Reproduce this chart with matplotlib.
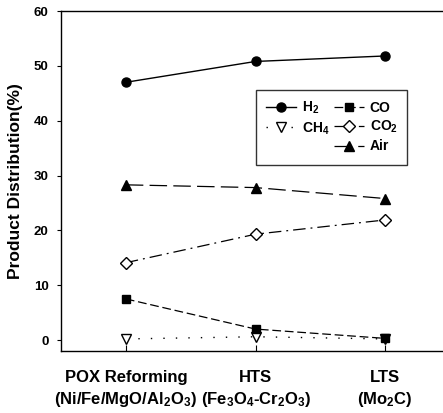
import matplotlib.pyplot as plt
from matplotlib.lines import Line2D

plt.rcParams["font.family"] = ["Liberation Sans", "DejaVu Sans"]
plt.rcParams["mathtext.default"] = "regular"

categories = ["POX Reforming\n(Ni/Fe/MgO/Al$_2$O$_3$)",
              "HTS\n(Fe$_3$O$_4$-Cr$_2$O$_3$)",
              "LTS\n(Mo$_2$C)"]
h2 = [47.0, 50.8, 51.8]
ch4 = [0.2, 0.6, 0.2]
co = [7.5, 2.0, 0.3]
co2 = [14.1, 19.3, 21.9]
air = [28.3, 27.8, 25.8]
yticks = [0, 10, 20, 30, 40, 50, 60]


def main() -> None:
    fig = plt.figure(figsize=(4.43, 4.13), dpi=100, facecolor="white")
    ax = fig.add_axes((61 / 443, 1 - 351 / 413, 389 / 443, 340 / 413))
    x = range(len(categories))

    h_h2, = ax.plot(x, h2, "-", color="black", marker="o", ms=6.5, lw=1, label="H$_2$")
    h_ch4, = ax.plot(x, ch4, color="black", ls=(0, (1, 8)), marker="v", ms=6.5,
                     mfc="white", lw=1, label="CH$_4$")
    h_co, = ax.plot(x, co, color="black", ls=(0, (7, 3)), marker="s", ms=6,
                    lw=0.9, label="CO")
    h_co2, = ax.plot(x, co2, color="black", ls=(0, (10, 4, 1.5, 4)), marker="D",
                     ms=6.5, mfc="white", lw=0.9, label="CO$_2$")
    h_air, = ax.plot(x, air, color="black", ls=(0, (14, 5)), marker="^", ms=6.5,
                     lw=0.9, label="Air")

    ax.set_xlim(-0.5, 2.5)
    ax.set_ylim(-2, 60)
    ax.set_yticks(yticks)
    ax.set_yticklabels([str(v) for v in yticks], fontweight="bold", fontsize=9.5)
    ax.set_xticks(list(x))
    ax.set_xticklabels(categories, fontweight="bold", fontsize=12, linespacing=1.3)
    ax.tick_params(axis="x", direction="in", length=4, pad=14)
    ax.tick_params(axis="y", direction="out", length=3, pad=6)
    ax.spines["right"].set_visible(False)
    for s in ax.spines.values():
        s.set_linewidth(1)
    ax.set_ylabel("Product Distribution(%)", fontsize=12.5, fontweight="bold",
                  labelpad=8)

    # legend: first column holds H2 and CH4 only, so pad it with an empty entry
    blank = Line2D([], [], color="none", label=" ")
    ax.legend(handles=[h_h2, h_ch4, blank, h_co, h_co2, h_air], ncol=2,
              loc="upper left", bbox_to_anchor=(256 / 443, 1 - 90 / 413),
              bbox_transform=fig.transFigure, frameon=True, fancybox=False,
              edgecolor="black", handlelength=2.2,
              columnspacing=0.3, handletextpad=0.4, labelspacing=0.3,
              borderaxespad=0, borderpad=0.7,
              prop={"weight": "bold", "size": 10})

    fig.savefig("out.png", dpi=100, facecolor="white")
    plt.close(fig)


if __name__ == "__main__":
    main()
